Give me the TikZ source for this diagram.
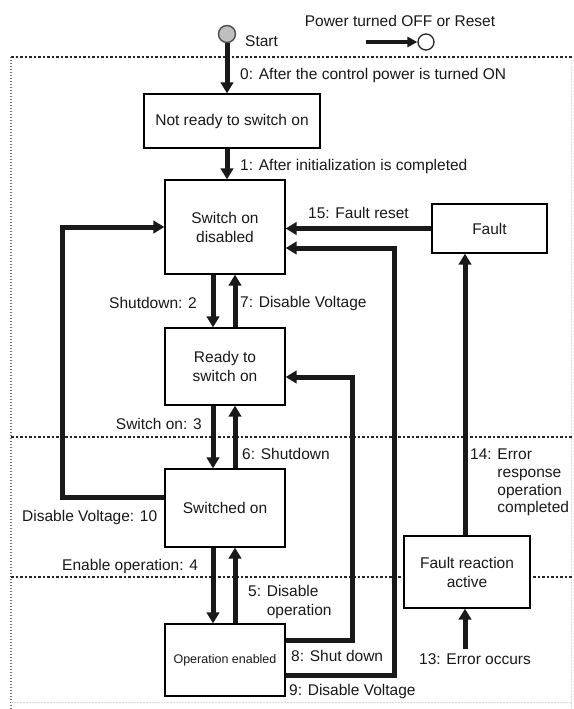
\documentclass[tikz,border=0pt]{standalone}
\usepackage{fontspec}
\setmainfont{Liberation Sans}
\usetikzlibrary{arrows.meta}
\begin{document}
\begin{tikzpicture}[x=1pt,y=-1pt,
  every node/.style={font=\fontsize{15.5}{19}\selectfont, inner sep=0pt, text=black!90},
  state/.style={draw=black, line width=1.3pt, fill=white, align=center},
  arr/.style={line width=5pt, draw=black!90, -{Triangle[length=11pt,width=12.5pt]}},
  lbl/.style={anchor=west, align=left},
  framedash/.style={draw=black!85, line width=1.2pt, dash pattern=on 2.5pt off 2pt},
  framedot/.style={draw=black!55, line width=2pt, dash pattern=on 1.2pt off 1.8pt},
  framefaint/.style={draw=black!15, line width=1pt, dash pattern=on 1.5pt off 1.5pt}]
\useasboundingbox (0,0) rectangle (573,709);
\fill[white] (0,0) rectangle (573,709);

% frame lines
\draw[framedot] (11,57) -- (11,709);
\draw[framefaint] (571,57) -- (571,709);
\draw[framefaint] (11,702) -- (571,702);
\draw[framedash] (11,57) -- (573,57);
\draw[framedash] (11,437) -- (573,437);
\draw[framedash] (11,577) -- (573,577);

% start and legend
\node[circle, draw=black!70, fill=black!25, minimum size=17pt, line width=1.4pt] (start) at (227,34) {};
\node[lbl] (startlbl) at (245,41) {Start};
\node (powerlbl) at (400,21) {Power turned OFF or Reset};
\node[circle, draw=black!85, fill=white, minimum size=16pt, line width=1.3pt] (pcirc) at (426,42) {};
\coordinate (pstart) at (366,42);
\draw[line width=3.5pt, draw=black!90, -{Triangle[length=10pt,width=10pt]}] (pstart) -- (pcirc.west);

% states
\node[state, minimum width=176pt, minimum height=54pt] (notready) at (232,121) {Not ready to switch on};
\node[state, minimum width=120pt, minimum height=94pt] (sod) at (225,227) {Switch on\\disabled};
\node[state, minimum width=115pt, minimum height=49pt] (fault) at (489.5,228.5) {Fault};
\node[state, minimum width=120pt, minimum height=77pt] (ready) at (225,366.5) {Ready to\\switch on};
\node[state, minimum width=120pt, minimum height=78pt] (swon) at (225,508) {Switched on};
\node[state, minimum width=120pt, minimum height=72pt, font=\fontsize{12.5}{15}\selectfont] (opena) at (225,660) {Operation enabled};
\node[state, minimum width=126pt, minimum height=72pt] (fra) at (467,572) {Fault reaction\\active};

% helper coordinates
\coordinate (k10) at (62,227);
\coordinate (k8) at (352,377);
\coordinate (k9) at (394,248);
\coordinate (k13) at (465,649);

% transitions
\draw[arr] (start.south) -- (start.south |- notready.north);
\draw[arr] (start.south |- notready.south) -- (start.south |- sod.north);
\draw[arr] ([xshift=-12pt]sod.south) -- ([xshift=-12pt]ready.north);
\draw[arr] ([xshift=10pt]ready.north) -- ([xshift=10pt]sod.south);
\draw[arr] ([xshift=-12pt]ready.south) -- ([xshift=-12pt]swon.north);
\draw[arr] ([xshift=10pt]swon.north) -- ([xshift=10pt]ready.south);
\draw[arr] ([xshift=-12pt]swon.south) -- ([xshift=-12pt]opena.north);
\draw[arr] ([xshift=10pt]opena.north) -- ([xshift=10pt]swon.south);
\draw[arr] ([yshift=11pt]swon.west) -| (k10) -- (sod.west);
\draw[arr] (fault.west) -- (fault.west -| sod.east);
\draw[arr] ([yshift=20pt]opena.east) -| (k8) -- (k8 -| ready.east);
\draw[arr] ([yshift=-15pt]opena.east) -| (k9) -- (k9 -| sod.east);
\draw[arr] (k13) -- (k13 |- fra.south);
\draw[arr] (k13 |- fra.north) -- (k13 |- fault.south);

% labels
\node[lbl] (l0) at (240,75) {0: After the control power is turned ON};
\node[lbl] (l1) at (240,166) {1: After initialization is completed};
\node[anchor=east] (l2) at (197,303) {Shutdown: 2};
\node[lbl] (l7) at (240,303) {7: Disable Voltage};
\node[anchor=east] (l3) at (202,424) {Switch on: 3};
\node[lbl] (l6) at (242,454) {6: Shutdown};
\node[lbl] (l10) at (22,517) {Disable Voltage: 10};
\node[lbl] (l4) at (62,566) {Enable operation: 4};
\node[lbl, anchor=north west] (l5) at (248,585) {5: Disable\\\phantom{5: }operation};
\node[lbl] (l15) at (308,213) {15: Fault reset};
\node[lbl, anchor=north west, font=\fontsize{15.5}{17.7}\selectfont] (l14) at (470,449) {14: Error\\\phantom{14: }response\\\phantom{14: }operation\\\phantom{14: }completed};
\node[lbl] (l8) at (291,656) {8: Shut down};
\node[lbl] (l9) at (289,691) {9: Disable Voltage};
\node[lbl] (l13) at (419,659) {13: Error occurs};
\end{tikzpicture}
\end{document}
